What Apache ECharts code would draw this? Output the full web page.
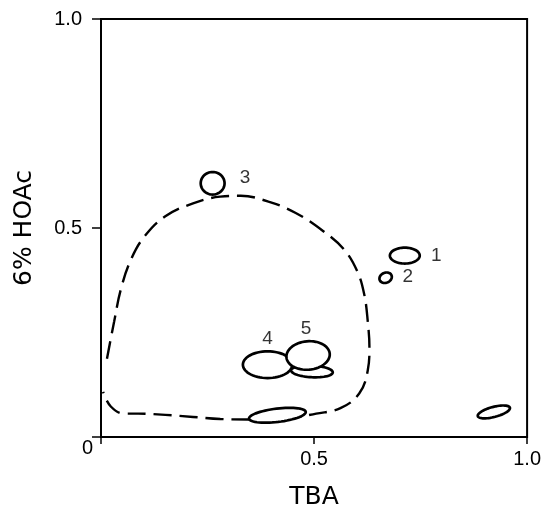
<!DOCTYPE html>
<html>
  <head>
    <title></title>
    <meta charset="UTF-8" />
    <script src="https://cdn.jsdelivr.net/npm/echarts@6/dist/echarts.min.js"></script>
  </head>
  <body style="margin:0">
    <div id="main"></div>
    <script>
      const width = 544;
      const height = 515;
      const main = document.getElementById('main');
      main.style.width = `${width}px`;
      main.style.height = `${height}px`;

      // spots (Rf units): centre, half-widths, tilt in degrees
      const spotX = [0.391, 0.495, 0.486, 0.262, 0.713, 0.668, 0.414, 0.922];
      const spotY = [0.173, 0.157, 0.195, 0.607, 0.434, 0.381, 0.052, 0.060];
      const spotRx = [0.058, 0.049, 0.051, 0.028, 0.035, 0.015, 0.067, 0.039];
      const spotRy = [0.032, 0.014, 0.034, 0.027, 0.019, 0.012, 0.016, 0.012];
      const spotAngle = [0, -3, 5, 0, 0, 25, 7, 15];

      // spot numbers
      const labelText = ['1', '2', '3', '4', '5'];
      const labelX = [0.787, 0.720, 0.338, 0.391, 0.481];
      const labelY = [0.434, 0.383, 0.619, 0.234, 0.260];

      // dashed outline
      const outlineX = [0.014, 0.031, 0.047, 0.071, 0.103, 0.151, 0.216, 0.280, 0.328, 0.393, 0.457, 0.521,
        0.570, 0.602, 0.618, 0.626, 0.630, 0.626, 0.606, 0.562, 0.505, 0.441, 0.344, 0.280, 0.216, 0.151,
        0.087, 0.055, 0.023, 0.005];
      const outlineY = [0.187, 0.277, 0.355, 0.426, 0.481, 0.528, 0.559, 0.575, 0.577, 0.563, 0.536, 0.493,
        0.449, 0.395, 0.340, 0.277, 0.214, 0.159, 0.104, 0.069, 0.056, 0.045, 0.042, 0.043, 0.048, 0.053,
        0.056, 0.056, 0.073, 0.108];

      const xTicks = ['0', '0.5', '1.0'];
      const yTicks = ['0', '0.5', '1.0'];

      const spots = spotX.map((x, i) => [x, spotY[i], spotRx[i], spotRy[i], spotAngle[i]]);
      const labels = labelText.map((t, i) => [labelX[i], labelY[i], t]);
      const outline = outlineX.map((x, i) => [x, outlineY[i]]);

      const font = 'Liberation Sans';
      const titleFont = 'DejaVu Sans';

      const myChart = echarts.init(main);
      const option = {
        backgroundColor: '#fff',
        animation: false,
        grid: {
          left: 101,
          right: 11,
          top: 19,
          bottom: 70,
          show: true,
          borderColor: '#000',
          borderWidth: 2,
        },
        xAxis: {
          type: 'value',
          min: 0,
          max: 1,
          interval: 0.5,
          name: 'TBA',
          nameLocation: 'middle',
          nameGap: 48,
          nameTextStyle: { fontFamily: titleFont, fontSize: 25, color: '#000' },
          axisLine: { lineStyle: { color: '#000', width: 2 } },
          axisTick: { length: 7, lineStyle: { color: '#000', width: 1.5 } },
          splitLine: { show: false },
          axisLabel: {
            margin: 12,
            fontFamily: font,
            fontSize: 20,
            color: '#000',
            formatter: (v) => (v === 0 ? '' : xTicks[Math.round(v * 2)]),
          },
        },
        yAxis: {
          type: 'value',
          min: 0,
          max: 1,
          interval: 0.5,
          name: '6% HOAc',
          nameLocation: 'middle',
          nameGap: 64,
          nameTextStyle: { fontFamily: titleFont, fontSize: 25, color: '#000' },
          axisLine: { lineStyle: { color: '#000', width: 2 } },
          axisTick: { length: 9, lineStyle: { color: '#000', width: 1.5 } },
          splitLine: { show: false },
          axisLabel: {
            margin: 8,
            fontFamily: font,
            fontSize: 20,
            color: '#000',
            formatter: (v) => (v === 0 ? '{z|0}' : '{v|' + yTicks[Math.round(v * 2)] + '}'),
            rich: {
              v: { fontFamily: font, fontSize: 20, color: '#000', padding: [0, 11, 0, 0] },
              z: { fontFamily: font, fontSize: 20, color: '#000', padding: [22, 0, 0, 0] },
            },
          },
        },
        series: [
          {
            type: 'line',
            data: outline,
            smooth: 0.4,
            showSymbol: false,
            lineStyle: { color: '#000', width: 2.4, type: [18, 8] },
            z: 1,
          },
          {
            type: 'custom',
            data: spots,
            z: 2,
            renderItem: (params, api) => {
              const cx = api.value(0);
              const cy = api.value(1);
              const rx = api.value(2);
              const ry = api.value(3);
              const a = (api.value(4) * Math.PI) / 180;
              const pts = [];
              for (let k = 0; k < 60; k++) {
                const t = (k / 60) * Math.PI * 2;
                const ex = rx * Math.cos(t);
                const ey = ry * Math.sin(t);
                pts.push(api.coord([cx + ex * Math.cos(a) - ey * Math.sin(a), cy + ex * Math.sin(a) + ey * Math.cos(a)]));
              }
              return {
                type: 'polygon',
                shape: { points: pts },
                style: { fill: '#fff', stroke: '#000', lineWidth: 2.7 },
              };
            },
          },
          {
            type: 'scatter',
            data: labels,
            symbolSize: 0,
            z: 3,
            label: {
              show: true,
              position: 'inside',
              fontFamily: font,
              fontSize: 19,
              color: '#000',
              formatter: (p) => p.value[2],
            },
          },
        ],
      };
      myChart.setOption(option);
    </script>
  </body>
</html>
